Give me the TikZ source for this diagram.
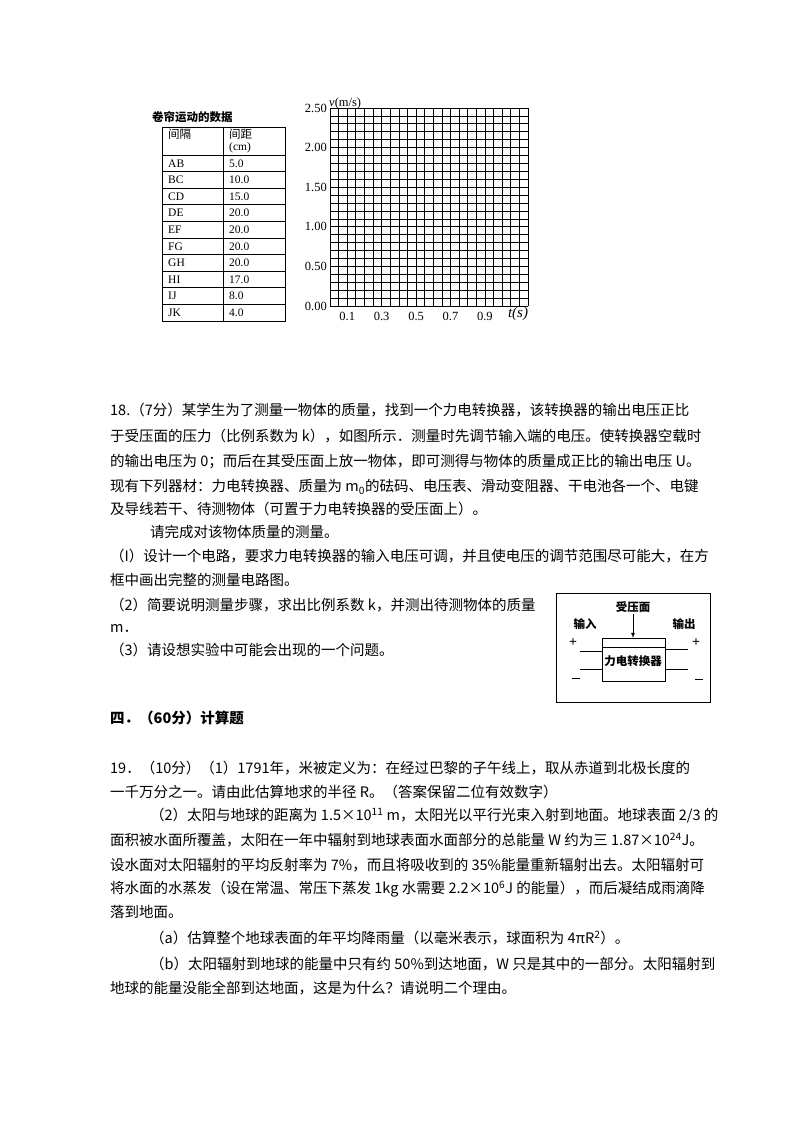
\documentclass[tikz,border=0pt]{standalone}
\usepackage{fontspec}
\setmainfont{Noto Sans CJK SC}
\newfontfamily\tf{Liberation Serif}
\newfontfamily\cj{Noto Sans CJK SC}
\begin{document}
\begin{tikzpicture}[x=1pt,y=-1pt,
 ln/.style={anchor=west,inner sep=0pt,font=\fontsize{14.5}{16}\selectfont},
 tb/.style={anchor=west,inner sep=0pt,font=\tf\fontsize{11.5}{12}\selectfont},
 ax/.style={inner sep=0pt,font=\tf\fontsize{12.5}{13}\selectfont},
 cl/.style={inner sep=0pt,font=\cj\fontsize{11.5}{12}\selectfont\bfseries}]
\useasboundingbox (0,0) rectangle (800,1132);
\fill[white] (0,0) rectangle (800,1132);
% table
\node[anchor=west,inner sep=0pt,font=\cj\fontsize{11.5}{12}\selectfont\bfseries] (tt) at (152,117) {卷帘运动的数据};
\draw[line width=0.8pt] (162,127) rectangle (285,321);
\draw[line width=0.8pt] (223,127) -- (223,321);
\foreach \i in {0,...,9} \draw[line width=0.7pt] (162,155+\i*16.6) -- (285,155+\i*16.6);
\node[anchor=west,inner sep=0pt,font=\cj\fontsize{11.5}{12}\selectfont] (h1) at (168,134) {间隔};
\node[anchor=west,inner sep=0pt,font=\cj\fontsize{11.5}{12}\selectfont] (h2) at (229,134) {间距};
\node[tb] (h3) at (229,148) {(cm)};
\foreach \a/\b [count=\i from 0] in {AB/5.0,BC/10.0,CD/15.0,DE/20.0,EF/20.0,FG/20.0,GH/20.0,HI/17.0,IJ/8.0,JK/4.0}{
 \node[tb] (a\i) at (168,163.3+\i*16.6) {\a};
 \node[tb] (b\i) at (229,163.3+\i*16.6) {\b};}
% grid
\foreach \i in {0,...,23} \draw[line width=0.75pt] (330+\i*8.6087,108) -- (330+\i*8.6087,306);
\foreach \j in {0,...,25} \draw[line width=0.75pt] (330,108+\j*7.92) -- (528,108+\j*7.92);
\foreach \v [count=\j from 0] in {2.50,2.00,1.50,1.00,0.50,0.00}
 \node[ax,anchor=east] (y\j) at (327,108+\j*39.6) {\v};
\node[ax,anchor=south west] (vl) at (329,109) {\textit{v}(m/s)};
\foreach \t [count=\i from 0] in {0.1,0.3,0.5,0.7,0.9}
 \node[ax] (x\i) at (347.2+\i*34.43,316) {\t};
\node[ax,font=\tf\fontsize{15}{15}\selectfont\itshape] (tl) at (518,314) {t(s)};
% text 18
\node[ln] (l1) at (110,410) {18.（7分）某学生为了测量一物体的质量，找到一个力电转换器，该转换器的输出电压正比};
\node[ln] (l2) at (110,436) {于受压面的压力（比例系数为 k），如图所示．测量时先调节输入端的电压。使转换器空载时};
\node[ln] (l3) at (110,462) {的输出电压为 0；而后在其受压面上放一物体，即可测得与物体的质量成正比的输出电压 U。};
\node[ln] (l4) at (110,487) {现有下列器材：力电转换器、质量为 m\textsubscript{0}的砝码、电压表、滑动变阻器、干电池各一个、电键};
\node[ln] (l5) at (110,509) {及导线若干、待测物体（可置于力电转换器的受压面上）。};
\node[ln] (l6) at (150,532) {请完成对该物体质量的测量。};
\node[ln] (l7) at (110,556) {（I）设计一个电路，要求力电转换器的输入电压可调，并且使电压的调节范围尽可能大，在方};
\node[ln] (l8) at (110,580) {框中画出完整的测量电路图。};
\node[ln] (l9) at (110,605) {（2）简要说明测量步骤，求出比例系数 k，并测出待测物体的质量};
\node[ln] (l10) at (110,628) {m．};
\node[ln] (l11) at (110,650) {（3）请设想实验中可能会出现的一个问题。};
% circuit figure
\draw[line width=0.9pt] (556,593) rectangle (710,702);
\draw[line width=0.8pt] (602,638) rectangle (665,681);
\draw[line width=0.8pt] (602,647) -- (665,647);
\node[cl] (ym) at (633,607) {受压面};
\coordinate (ya) at (633,614);
\coordinate (yb) at (633,638);
\draw[line width=0.8pt,-latex] (ya) -- (yb);
\node[cl] (in) at (585,624) {输入};
\node[cl] (out) at (684,624) {输出};
\node[cl] (pc) at (633,661) {力电转换器};
\draw[line width=0.8pt] (580,651) -- (602,651) (580,669) -- (602,669) (665,649) -- (688,649) (665,669) -- (688,669);
\node[ax,font=\tf\fontsize{14}{14}\selectfont\bfseries] (p1) at (573,643) {+};
\node[ax] (m1) at (576,678) {\rule{8pt}{0.8pt}};
\node[ax,font=\tf\fontsize{14}{14}\selectfont\bfseries] (p2) at (696,643) {+};
\node[ax] (m2) at (699,679) {\rule{8pt}{0.8pt}};
% section 4
\node[ln,font=\fontsize{14.5}{16}\selectfont\bfseries] (s4) at (110,718) {四．（60分）计算题};
\node[ln] (q1) at (110,768) {19．（10分）（1）1791年，米被定义为：在经过巴黎的子午线上，取从赤道到北极长度的};
\node[ln] (q2) at (110,792) {一千万分之一。请由此估算地求的半径 R。（答案保留二位有效数字）};
\node[ln] (q3) at (150,816) {（2）太阳与地球的距离为 1.5×10\textsuperscript{11} m，太阳光以平行光束入射到地面。地球表面 2/3 的};
\node[ln] (q4) at (110,840) {面积被水面所覆盖，太阳在一年中辐射到地球表面水面部分的总能量 W 约为三 1.87×10\textsuperscript{24}J。};
\node[ln] (q5) at (110,865) {设水面对太阳辐射的平均反射率为 7\%，而且将吸收到的 35\%能量重新辐射出去。太阳辐射可};
\node[ln] (q6) at (110,889) {将水面的水蒸发（设在常温、常压下蒸发 1kg 水需要 2.2×10\textsuperscript{6}J 的能量），而后凝结成雨滴降};
\node[ln] (q7) at (110,912) {落到地面。};
\node[ln] (q8) at (150,938) {（a）估算整个地球表面的年平均降雨量（以毫米表示，球面积为 4πR\textsuperscript{2}）。};
\node[ln] (q9) at (150,964) {（b）太阳辐射到地球的能量中只有约 50\%到达地面，W 只是其中的一部分。太阳辐射到};
\node[ln] (q10) at (110,988) {地球的能量没能全部到达地面，这是为什么？请说明二个理由。};
\end{tikzpicture}
\end{document}
